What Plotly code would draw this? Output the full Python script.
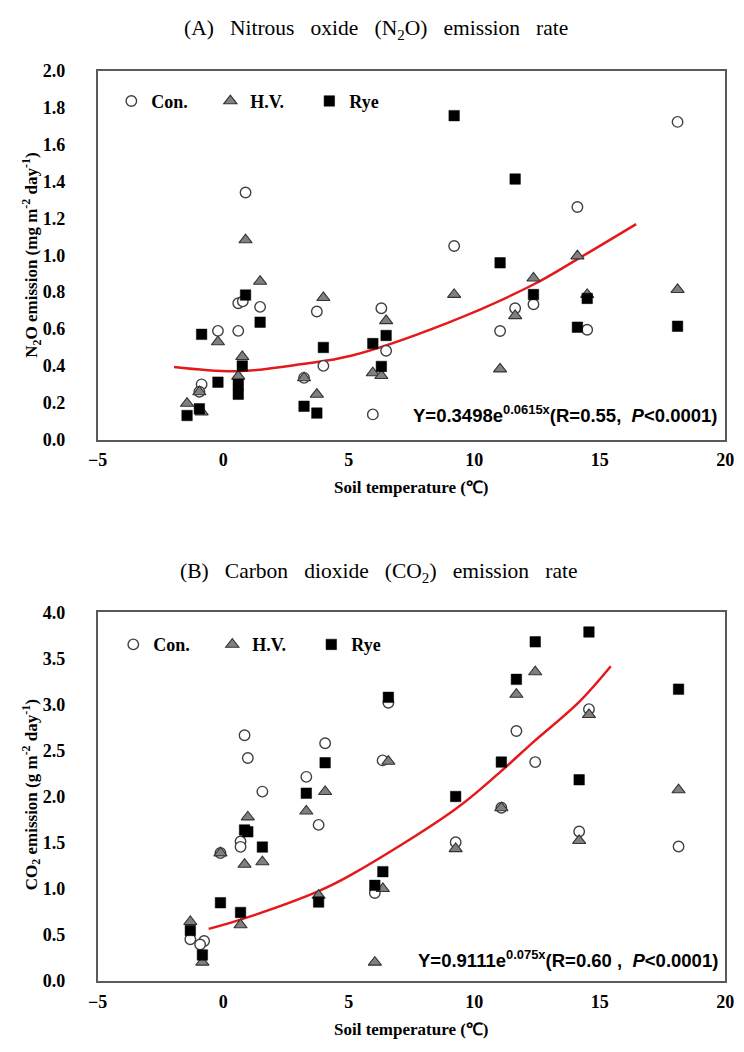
import plotly.graph_objects as go

W, H = 744, 1052

# ---------------- Panel A : N2O ----------------
a_con_x = [-0.86, -0.95, -0.21, 0.60, 0.78, 0.60, 0.89, 1.47, 3.22, 3.73, 3.99, 5.96, 6.30, 6.49, 9.20, 11.03, 11.63, 12.36, 14.11, 14.50, 18.10]
a_con_y = [0.30, 0.26, 0.59, 0.74, 0.75, 0.59, 1.34, 0.72, 0.335, 0.695, 0.40, 0.137, 0.713, 0.482, 1.05, 0.589, 0.713, 0.734, 1.262, 0.596, 1.723]

a_hv_x = [-1.44, -0.95, -0.86, -0.21, 0.76, 0.60, 0.89, 1.47, 3.22, 3.73, 3.99, 5.96, 6.30, 6.49, 9.20, 11.03, 11.63, 12.36, 14.11, 14.50, 18.10]
a_hv_y = [0.197, 0.259, 0.15, 0.53, 0.45, 0.344, 1.083, 0.858, 0.335, 0.246, 0.77, 0.362, 0.347, 0.645, 0.787, 0.383, 0.672, 0.876, 0.996, 0.787, 0.814]

a_rye_x = [-1.44, -0.95, -0.86, -0.21, 0.60, 0.60, 0.76, 0.89, 1.47, 3.22, 3.73, 3.99, 5.96, 6.30, 6.49, 9.20, 11.03, 11.63, 12.36, 14.11, 14.50, 18.10]
a_rye_y = [0.131, 0.167, 0.571, 0.312, 0.30, 0.246, 0.40, 0.784, 0.637, 0.181, 0.144, 0.50, 0.521, 0.397, 0.565, 1.757, 0.959, 1.413, 0.787, 0.61, 0.766, 0.615]

a_fit_x = [-1.96, 0.56, 3.15, 5.09, 8.97, 12.34, 14.15, 16.45]
a_fit_y = [0.394, 0.371, 0.41, 0.455, 0.635, 0.84, 0.982, 1.169]

# ---------------- Panel B : CO2 ----------------
b_con_x = [-1.31, -0.76, -0.92, -0.11, 0.85, 0.98, 1.56, 0.69, 0.69, 3.31, 4.06, 3.80, 6.04, 6.35, 6.58, 9.26, 11.08, 11.68, 12.43, 14.18, 14.57, 18.14]
b_con_y = [0.454, 0.436, 0.397, 1.39, 2.667, 2.42, 2.056, 1.514, 1.457, 2.216, 2.58, 1.695, 0.957, 2.394, 3.02, 1.507, 1.88, 2.713, 2.376, 1.624, 2.95, 1.461]

b_hv_x = [-1.31, -0.83, -0.11, 0.98, 0.85, 1.56, 0.69, 3.31, 4.06, 3.80, 6.04, 6.36, 6.58, 9.26, 11.08, 11.68, 12.43, 14.18, 14.57, 18.14]
b_hv_y = [0.646, 0.205, 1.39, 1.78, 1.266, 1.294, 0.61, 1.844, 2.056, 0.93, 0.205, 1.003, 2.383, 1.436, 1.88, 3.11, 3.354, 1.525, 2.89, 2.074]

b_rye_x = [-1.31, -0.83, -0.11, 0.85, 0.98, 1.56, 0.69, 3.31, 4.06, 3.80, 6.04, 6.36, 6.58, 9.26, 11.08, 11.68, 12.43, 14.18, 14.57, 18.14]
b_rye_y = [0.55, 0.284, 0.851, 1.64, 1.62, 1.454, 0.745, 2.039, 2.369, 0.858, 1.039, 1.188, 3.078, 2.003, 2.376, 3.273, 3.68, 2.184, 3.787, 3.167]

b_fit_x = [-0.58, 0.69, 3.80, 5.09, 9.23, 11.04, 12.34, 14.15, 15.44]
b_fit_y = [0.567, 0.667, 0.976, 1.152, 1.862, 2.27, 2.59, 3.02, 3.415]

x_ticks = [-5, 0, 5, 10, 15, 20]
series_names = ["Con.", "H.V.", "Rye"]

SERIF = "Liberation Serif"
SANS = "Liberation Sans"

def px(x):
    return x / W

def py(y):
    return 1 - y / H

con_marker = dict(symbol="circle", size=10.5, color="white", line=dict(color="#404040", width=1.4))
hv_marker = dict(symbol="triangle-up", size=11.5, color="#808080", line=dict(color="#333333", width=1.1))
rye_marker = dict(symbol="square", size=10.5, color="black", line=dict(color="black", width=0.5))
fit_line = dict(color="#e3191c", width=2.5, shape="spline", smoothing=1.0)

fig = go.Figure()

# Panel A traces
fig.add_trace(go.Scatter(x=a_fit_x, y=a_fit_y, mode="lines", line=fit_line, showlegend=False, xaxis="x", yaxis="y"))
fig.add_trace(go.Scatter(x=a_con_x, y=a_con_y, mode="markers", marker=con_marker, name=series_names[0], legend="legend", xaxis="x", yaxis="y"))
fig.add_trace(go.Scatter(x=a_hv_x, y=a_hv_y, mode="markers", marker=hv_marker, name=series_names[1], legend="legend", xaxis="x", yaxis="y"))
fig.add_trace(go.Scatter(x=a_rye_x, y=a_rye_y, mode="markers", marker=rye_marker, name=series_names[2], legend="legend", xaxis="x", yaxis="y"))

# Panel B traces
fig.add_trace(go.Scatter(x=b_fit_x, y=b_fit_y, mode="lines", line=fit_line, showlegend=False, xaxis="x2", yaxis="y2"))
fig.add_trace(go.Scatter(x=b_con_x, y=b_con_y, mode="markers", marker=con_marker, name=series_names[0], legend="legend2", xaxis="x2", yaxis="y2"))
fig.add_trace(go.Scatter(x=b_hv_x, y=b_hv_y, mode="markers", marker=hv_marker, name=series_names[1], legend="legend2", xaxis="x2", yaxis="y2"))
fig.add_trace(go.Scatter(x=b_rye_x, y=b_rye_y, mode="markers", marker=rye_marker, name=series_names[2], legend="legend2", xaxis="x2", yaxis="y2"))

tickfont = dict(family=SERIF, size=18, color="black", weight="bold")
axis_common = dict(showgrid=False, zeroline=False, showline=True, mirror=True,
                   linecolor="#5a5a5a", linewidth=1.5, ticks="", tickfont=tickfont)

xdom = [px(90), px(734)]
fig.update_layout(
    width=W, height=H,
    margin=dict(l=0, r=0, t=0, b=0),
    paper_bgcolor="white", plot_bgcolor="white",
    xaxis=dict(domain=xdom, range=[-5, 20], tickvals=x_ticks, anchor="y", ticklabelstandoff=3, **axis_common),
    yaxis=dict(domain=[py(438), py(62)], range=[0, 2.0], dtick=0.2, tickformat=".1f", anchor="x", ticklabelstandoff=27, **axis_common),
    xaxis2=dict(domain=xdom, range=[-5, 20], tickvals=x_ticks, anchor="y2", ticklabelstandoff=3, **axis_common),
    yaxis2=dict(domain=[py(990), py(614)], range=[0, 4.0], dtick=0.5, tickformat=".1f", anchor="x2", ticklabelstandoff=27, **axis_common),
    legend=dict(orientation="h", x=px(104), xanchor="left", y=py(93), yanchor="middle",
                font=dict(family=SERIF, size=18, color="black", weight="bold"),
                bgcolor="rgba(0,0,0,0)", entrywidth=54, entrywidthmode="pixels",
                itemclick=False, tracegroupgap=0),
    legend2=dict(orientation="h", x=px(106), xanchor="left", y=py(647), yanchor="middle",
                 font=dict(family=SERIF, size=18, color="black", weight="bold"),
                 bgcolor="rgba(0,0,0,0)", entrywidth=54, entrywidthmode="pixels",
                 itemclick=False, tracegroupgap=0),
    showlegend=True,
)

sp = "\u00a0\u00a0\u00a0"
annotations = [
    dict(text=f"(A){sp}Nitrous{sp}oxide{sp}(N<sub>2</sub>O){sp}emission{sp}rate",
         x=px(376), y=py(20), font=dict(family=SERIF, size=21.5, color="black")),
    dict(text=f"(B){sp}Carbon{sp}dioxide{sp}(CO<sub>2</sub>){sp}emission{sp}rate",
         x=px(378), y=py(573), font=dict(family=SERIF, size=21.5, color="black")),
    dict(text="<b>N<sub>2</sub>O emission (mg m<sup>-2</sup> day<sup>-1</sup>)</b>",
         x=px(22), y=py(250), textangle=-90, font=dict(family=SERIF, size=17, color="black")),
    dict(text="<b>CO<sub>2</sub> emission (g m<sup>-2</sup> day<sup>-1</sup>)</b>",
         x=px(22), y=py(800), textangle=-90, font=dict(family=SERIF, size=17, color="black")),
    dict(text="<b>Soil temperature (℃)</b>", x=px(412), y=py(487),
         font=dict(family=SERIF, size=17, color="black")),
    dict(text="<b>Soil temperature (℃)</b>", x=px(412), y=py(1039),
         font=dict(family=SERIF, size=17, color="black")),
    dict(text="<b>Y=0.3498e<sup>0.0615x</sup>(R=0.55,  <i>P</i>&lt;0.0001)</b>",
         x=px(728), y=py(412), xanchor="right", font=dict(family=SANS, size=18.5, color="black")),
    dict(text="<b>Y=0.9111e<sup>0.075x</sup>(R=0.60 ,  <i>P</i>&lt;0.0001)</b>",
         x=px(729), y=py(967), xanchor="right", font=dict(family=SANS, size=18.5, color="black")),
]
for a in annotations:
    a.setdefault("xanchor", "center")
    a.update(xref="paper", yref="paper", showarrow=False, yanchor="middle")
fig.update_layout(annotations=annotations)

fig.write_html("out.html")
